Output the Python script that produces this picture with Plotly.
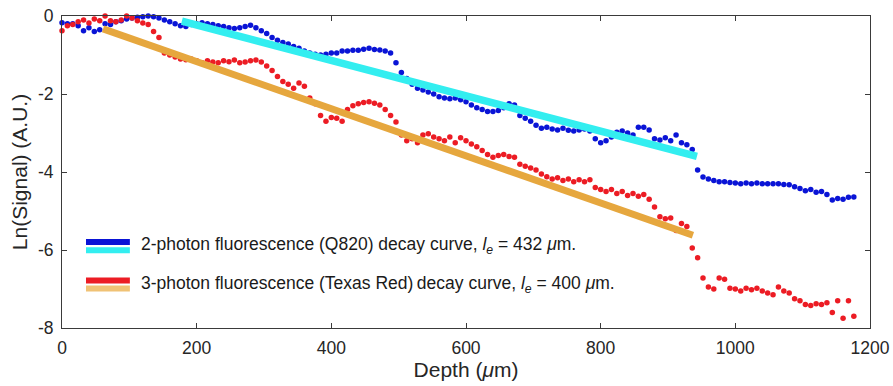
import plotly.graph_objects as go

depth = [0, 8, 16, 24, 32, 40, 48, 56, 64, 72,
         80, 88, 96, 104, 112, 120, 128, 136, 144, 152,
         160, 168, 176, 184, 192, 200, 208, 216, 224, 232,
         240, 248, 256, 264, 272, 280, 288, 296, 304, 312,
         320, 328, 336, 344, 352, 360, 368, 376, 384, 392,
         400, 408, 416, 424, 432, 440, 448, 456, 464, 472,
         480, 488, 496, 504, 512, 520, 528, 536, 544, 552,
         560, 568, 576, 584, 592, 600, 608, 616, 624, 632,
         640, 648, 656, 664, 672, 680, 688, 696, 704, 712,
         720, 728, 736, 744, 752, 760, 768, 776, 784, 792,
         800, 808, 816, 824, 832, 840, 848, 856, 864, 872,
         880, 888, 896, 904, 912, 920, 928, 936, 944, 952,
         960, 968, 976, 984, 992, 1000, 1008, 1016, 1024, 1032,
         1040, 1048, 1056, 1064, 1072, 1080, 1088, 1096, 1104, 1112,
         1120, 1128, 1136, 1144, 1152, 1160, 1168, 1176]

q820_signal = [-0.17, -0.20, -0.20, -0.25, -0.38, -0.30, -0.40, -0.35, -0.20, -0.22,
               -0.15, -0.12, -0.08, -0.05, -0.03, -0.02, 0.00, -0.02, -0.05, -0.10,
               -0.15, -0.20, -0.25, -0.27, -0.22, -0.20, -0.17, -0.20, -0.22, -0.25,
               -0.27, -0.30, -0.32, -0.30, -0.27, -0.24, -0.30, -0.38, -0.45, -0.55,
               -0.62, -0.68, -0.72, -0.78, -0.83, -0.90, -0.95, -0.98, -1.00, -0.98,
               -0.95, -0.95, -0.90, -0.90, -0.88, -0.88, -0.85, -0.83, -0.86, -0.87,
               -0.90, -0.95, -1.20, -1.45, -1.60, -1.75, -1.85, -1.90, -1.95, -2.00,
               -2.07, -2.10, -2.12, -2.10, -2.15, -2.20, -2.28, -2.35, -2.40, -2.45,
               -2.45, -2.42, -2.35, -2.25, -2.28, -2.55, -2.62, -2.70, -2.80, -2.88,
               -2.85, -2.90, -2.92, -2.88, -2.93, -2.95, -2.92, -2.90, -2.95, -3.15,
               -3.25, -3.20, -3.10, -2.98, -2.95, -3.00, -3.05, -2.85, -2.85, -2.92,
               -3.15, -3.18, -3.12, -3.20, -3.05, -3.25, -3.30, -3.42, -3.95, -4.13,
               -4.18, -4.22, -4.25, -4.25, -4.27, -4.28, -4.30, -4.28, -4.30, -4.28,
               -4.30, -4.30, -4.30, -4.30, -4.32, -4.33, -4.38, -4.42, -4.48, -4.45,
               -4.52, -4.50, -4.58, -4.72, -4.68, -4.70, -4.65, -4.64]

texas_red_signal = [-0.38, -0.25, -0.22, -0.15, -0.10, -0.18, -0.08, -0.12, 0.00, -0.12,
                    -0.15, -0.10, 0.00, -0.05, -0.12, -0.18, -0.22, -0.40, -0.55, -0.95,
                    -1.00, -1.05, -1.10, -1.12, -1.10, -1.15, -1.20, -1.15, -1.18, -1.20,
                    -1.15, -1.17, -1.13, -1.20, -1.18, -1.15, -1.13, -1.18, -1.28, -1.40,
                    -1.55, -1.68, -1.75, -1.85, -1.72, -1.80, -2.10, -2.25, -2.55, -2.70,
                    -2.60, -2.62, -2.70, -2.40, -2.30, -2.25, -2.22, -2.20, -2.24, -2.28,
                    -2.40, -2.55, -2.72, -3.05, -3.20, -3.15, -3.25, -3.05, -3.02, -3.10,
                    -3.15, -3.20, -3.10, -3.25, -3.12, -3.20, -3.28, -3.35, -3.45, -3.55,
                    -3.62, -3.58, -3.55, -3.60, -3.62, -3.80, -3.85, -3.90, -3.95, -4.05,
                    -4.12, -4.18, -4.15, -4.22, -4.18, -4.25, -4.20, -4.25, -4.20, -4.40,
                    -4.45, -4.50, -4.45, -4.55, -4.50, -4.60, -4.55, -4.62, -4.58, -4.70,
                    -4.90, -5.15, -5.20, -5.18, -5.50, -5.32, -5.40, -5.95, -6.20, -6.72,
                    -6.95, -7.00, -6.72, -6.75, -6.98, -7.00, -7.05, -6.98, -7.02, -6.98,
                    -7.05, -7.10, -7.15, -6.95, -7.05, -7.10, -7.25, -7.30, -7.40, -7.42,
                    -7.38, -7.40, -7.35, -7.60, -7.30, -7.75, -7.30, -7.70]

q820_fit_depth = [178, 943]
q820_fit_signal = [-0.13, -3.6]
texas_fit_depth = [61, 937]
texas_fit_signal = [-0.33, -5.62]

x_ticks = [0, 200, 400, 600, 800, 1000, 1200]
y_ticks = [0, -2, -4, -6, -8]
y_tick_text = ["0", "-2", "-4", "-6", "-8"]

legend_labels = [
    "2-photon fluorescence (Q820) decay curve, <i>l<sub>e</sub></i> = 432 <i>μ</i>m.",
    "3-photon fluorescence (Texas Red)\u2009decay curve, <i>l<sub>e</sub></i> = 400 <i>μ</i>m.",
]

BLUE = "#0a14d6"
CYAN = "#33eef0"
RED = "#ec1c24"
ORANGE = "#e6a73e"
ORANGE_LIGHT = "#f0c275"
AXIS = "#3a3a3a"
FONT = "Arial, Liberation Sans, Helvetica, sans-serif"

fig = go.Figure()
fig.add_trace(go.Scatter(x=depth, y=q820_signal, mode="markers",
                         marker=dict(color=BLUE, size=5.5), cliponaxis=False,
                         showlegend=False))
fig.add_trace(go.Scatter(x=depth, y=texas_red_signal, mode="markers",
                         marker=dict(color=RED, size=5.5), cliponaxis=False,
                         showlegend=False))
fig.add_trace(go.Scatter(x=q820_fit_depth, y=q820_fit_signal, mode="lines",
                         line=dict(color=CYAN, width=7.5), showlegend=False))
fig.add_trace(go.Scatter(x=texas_fit_depth, y=texas_fit_signal, mode="lines",
                         line=dict(color=ORANGE, width=7), showlegend=False))

# manual legend (double-colour samples)
legend_rows = [(0.263, BLUE, CYAN, legend_labels[0]),
               (0.140, RED, ORANGE_LIGHT, legend_labels[1])]
for yc, c1, c2, label in legend_rows:
    fig.add_shape(type="line", xref="paper", yref="paper",
                  x0=0.0297, x1=0.084, y0=yc + 0.0125, y1=yc + 0.0125,
                  line=dict(color=c1, width=6))
    fig.add_shape(type="line", xref="paper", yref="paper",
                  x0=0.0297, x1=0.084, y0=yc - 0.0135, y1=yc - 0.0135,
                  line=dict(color=c2, width=6))
    fig.add_annotation(xref="paper", yref="paper", x=0.0955, y=yc,
                       xanchor="left", yanchor="middle", showarrow=False,
                       text=label, font=dict(family=FONT, size=17.5, color="#1a1a1a"))

fig.update_layout(
    width=893, height=386,
    margin=dict(l=62, r=23, t=16, b=58, autoexpand=False),
    paper_bgcolor="white", plot_bgcolor="white",
    font=dict(family=FONT, size=17.5, color="#262626"),
    xaxis=dict(range=[0, 1200], tickvals=x_ticks, ticks="inside", ticklen=5,
               tickcolor=AXIS, showline=True, linecolor=AXIS, linewidth=1,
               mirror="ticks", showgrid=False, zeroline=False, automargin=False,
               ticklabelstandoff=4,
               title=dict(text="Depth (<i>μ</i>m)", standoff=2,
                          font=dict(size=21)),
               tickfont=dict(size=17.5)),
    yaxis=dict(range=[-8, 0], tickvals=y_ticks, ticktext=y_tick_text,
               ticks="inside", ticklen=5, tickcolor=AXIS, showline=True,
               linecolor=AXIS, linewidth=1, mirror="ticks", showgrid=False,
               zeroline=False, ticklabelstandoff=4, automargin=False,
               title=dict(text="Ln(Signal) (A.U.)", standoff=4,
                          font=dict(size=21)),
               tickfont=dict(size=17.5)),
)

fig.write_html("out.html", config={"displayModeBar": False},
               post_script="document.body.style.margin='0px';")
